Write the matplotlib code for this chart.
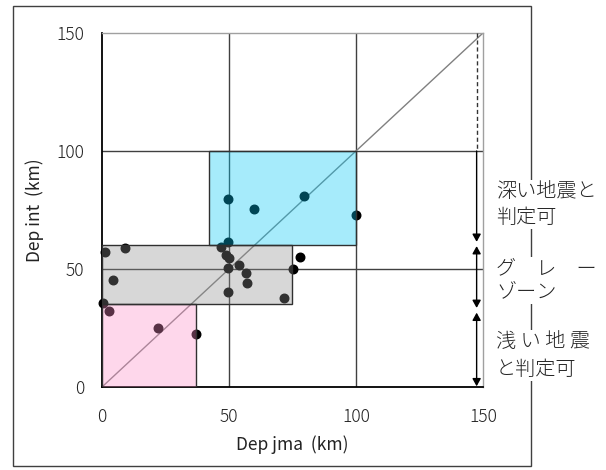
import matplotlib
matplotlib.use("Agg")
import matplotlib.pyplot as plt
from matplotlib.patches import Rectangle

plt.rcParams['font.family'] = ['Noto Sans CJK JP', 'DejaVu Sans']
plt.rcParams['font.weight'] = 'light'

# earthquake depths (km)
dep_jma = [49.7, 59.7, 79.7, 99.9, 49.7, 78.1,
           1.2, 8.9, 46.9, 48.7, 50.0, 49.7, 53.9, 56.7, 57.1, 49.7, 71.5, 75.1, 4.5,
           0.5, 2.9, 21.9, 36.9]
dep_int = [79.5, 75.6, 80.8, 72.9, 61.3, 55.1,
           57.1, 58.8, 59.2, 55.9, 54.5, 50.6, 51.8, 48.4, 43.9, 40.1, 37.6, 49.9, 45.3,
           35.5, 32.2, 25.0, 22.3]

# judgement zones: (x0, x1, y0, y1)
zone_deep = (42, 100, 60, 100)
zone_gray = (0, 75, 35, 60)
zone_shallow = (0, 37, 0, 35)

ticks = [0, 50, 100, 150]
arrow_x = 147.5

fig = plt.figure(figsize=(6.06, 4.70), dpi=100)
ax = fig.add_axes([0.1683, 0.1766, 0.6287, 0.7532])

# outer frame
fig.patches.append(Rectangle((0.0215, 0.0085), 0.855, 0.979, transform=fig.transFigure,
                             fill=False, edgecolor='#404040', lw=1.0))

ax.set_xlim(0, 150)
ax.set_ylim(0, 150)
ax.set_xticks(ticks)
ax.set_yticks(ticks)
ax.tick_params(length=0, labelsize=12.5, colors='#222222')
ax.tick_params(axis='x', pad=15)
ax.tick_params(axis='y', pad=13)

for v in [50, 100]:
    ax.axvline(v, color='#404040', lw=1.0, zorder=1)
    ax.axhline(v, color='#404040', lw=1.0, zorder=1)

ax.plot([0, 150], [0, 150], color='#808080', lw=1.0, zorder=1)

ax.scatter(dep_jma, dep_int, s=38, color='black', zorder=2, clip_on=False)

# translucent zones drawn over the points
for (x0, x1, y0, y1), c in [(zone_deep, '#00c8f6'), (zone_gray, '#8f8f8f'),
                             (zone_shallow, '#fe8fc8')]:
    ax.add_patch(Rectangle((x0, y0), x1 - x0, y1 - y0, facecolor=c, alpha=0.35,
                           edgecolor='none', zorder=3))
    ax.add_patch(Rectangle((x0, y0), x1 - x0, y1 - y0, fill=False,
                           edgecolor='#303030', lw=1.0, zorder=4))

for side in ['top', 'right']:
    ax.spines[side].set_color('#a0a0a0')
    ax.spines[side].set_linewidth(1.0)
for side in ['left', 'bottom']:
    ax.spines[side].set_color('black')
    ax.spines[side].set_linewidth(1.3)

# range arrows on the right
ax.plot([arrow_x, arrow_x], [150, 100], color='#333333', lw=1.0, ls=(0, (3, 2)), zorder=5)
ax.annotate('', xy=(arrow_x, 61.5), xytext=(arrow_x, 100),
            arrowprops=dict(arrowstyle='-|>,head_length=0.45,head_width=0.25',
                            color='black', lw=1.0, shrinkA=0, shrinkB=0), zorder=5)
ax.annotate('', xy=(arrow_x, 33.5), xytext=(arrow_x, 59.7),
            arrowprops=dict(arrowstyle='<|-|>,head_length=0.45,head_width=0.25',
                            color='black', lw=1.0, shrinkA=0, shrinkB=0), zorder=5)
ax.annotate('', xy=(arrow_x, 0.3), xytext=(arrow_x, 31.5),
            arrowprops=dict(arrowstyle='<|-|>,head_length=0.45,head_width=0.25',
                            color='black', lw=1.0, shrinkA=0, shrinkB=0), zorder=5)

ax.set_xlabel('Dep jma  (km)', fontsize=12.5, color='#222222', va='center')
ax.set_ylabel('Dep int  (km)', fontsize=12.5, color='#222222', va='center')
ax.xaxis.set_label_coords(0.5, -0.164)
ax.yaxis.set_label_coords(-0.176, 0.5)

box = dict(facecolor='white', edgecolor='none', pad=1)
tx = 0.8185
fig.text(tx, 0.565, '深い地震と\n判定可', fontsize=14.5, va='center', ha='left',
         linespacing=1.3, color='#222222', bbox=box)
fig.text(tx, 0.403, 'グ　レ　ー\nゾーン', fontsize=14.5, va='center', ha='left',
         linespacing=1.1, color='#222222', bbox=box)
fig.text(tx, 0.2436, '浅 い 地 震\nと判定可', fontsize=14.5, va='center', ha='left',
         linespacing=1.4, color='#222222', bbox=box)

fig.savefig('out.png', dpi=100)
